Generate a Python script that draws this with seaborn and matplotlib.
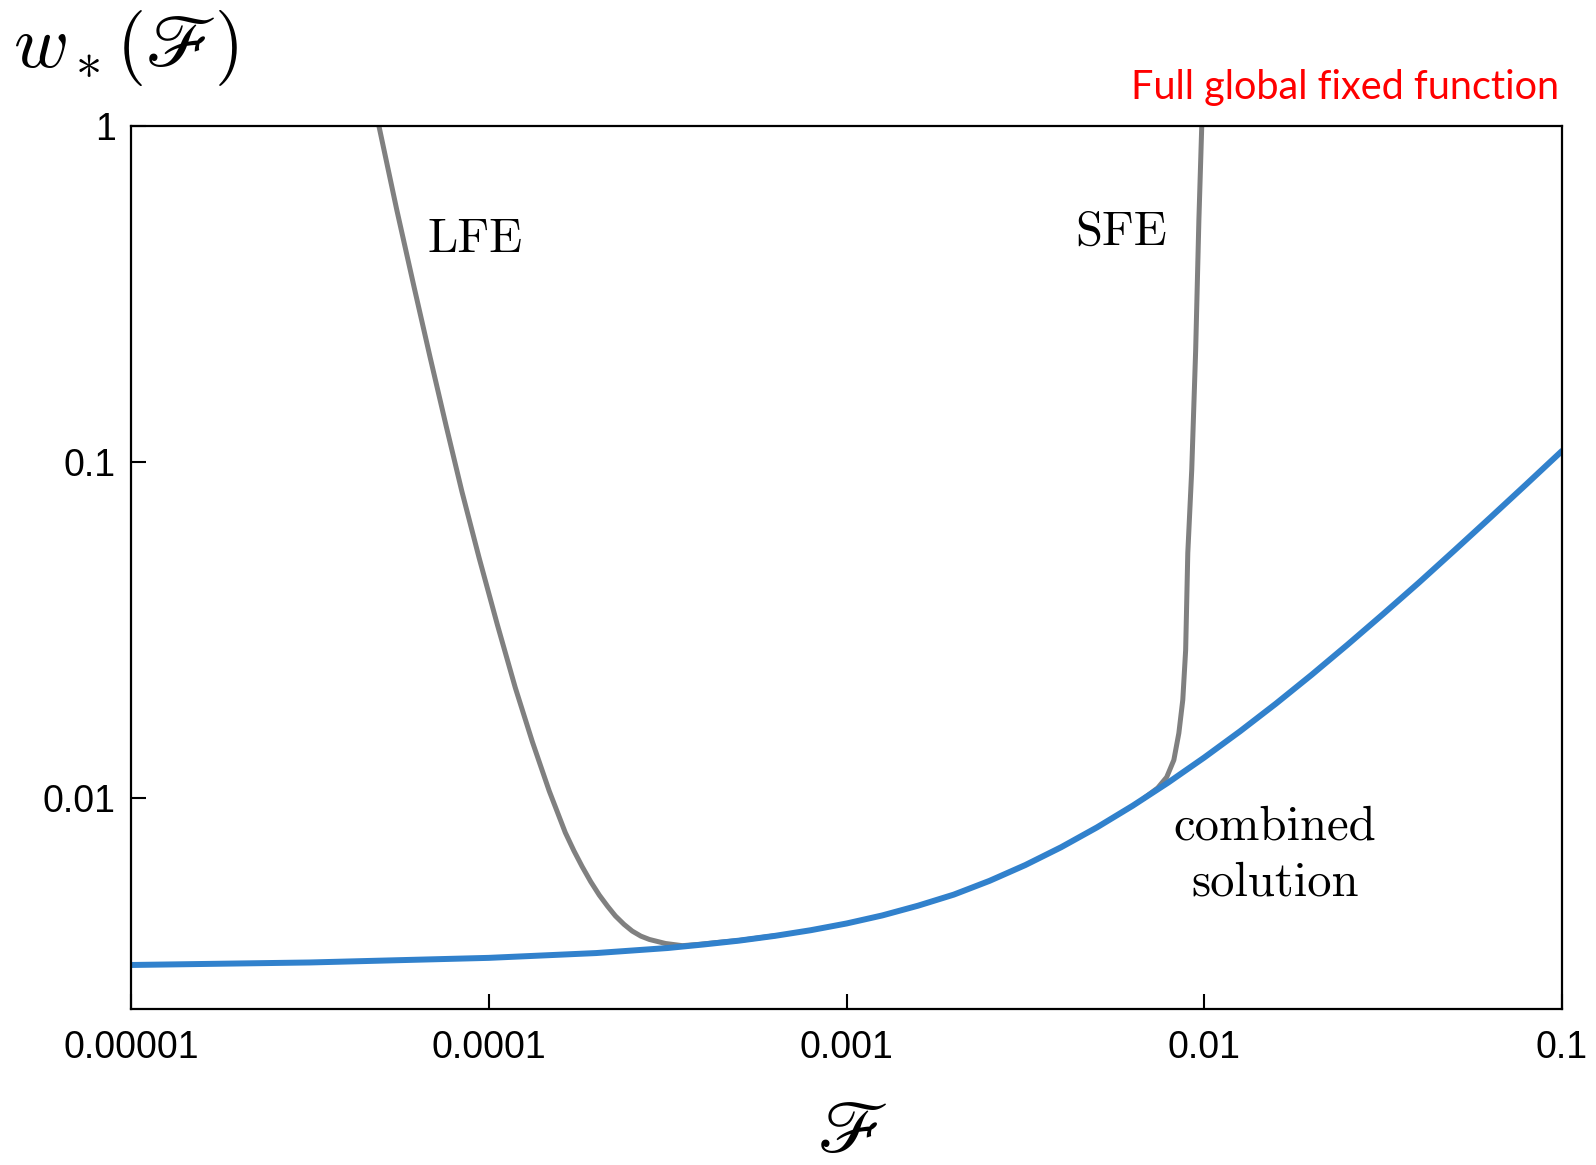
import numpy as np
import pandas as pd
import matplotlib
matplotlib.use("Agg")
import matplotlib.pyplot as plt
import seaborn as sns
from matplotlib.ticker import NullLocator

# ---- data (log10 of F and of w*) ----
combined_logF = [-5.0, -4.5, -4.0, -3.7, -3.5, -3.4, -3.3, -3.2, -3.1, -3.0, -2.9, -2.8,
                 -2.7, -2.6, -2.5, -2.4, -2.3, -2.2, -2.1, -2.0, -1.9, -1.8, -1.7, -1.6,
                 -1.5, -1.4, -1.3, -1.2, -1.1, -1.0]
combined_logw = [-2.497, -2.4895, -2.4758, -2.4615, -2.4465, -2.436, -2.4245, -2.4103,
                 -2.3935, -2.3735, -2.3495, -2.3205, -2.2875, -2.2465, -2.1995, -2.1465,
                 -2.0875, -2.023, -1.9535, -1.8795, -1.8015, -1.7195, -1.6335, -1.5442,
                 -1.4525, -1.359, -1.2625, -1.165, -1.0665, -0.967]

lfe_logF = [-4.307, -4.257, -4.209, -4.164, -4.119, -4.075, -4.027, -3.976, -3.926, -3.878,
            -3.831, -3.786, -3.762, -3.739, -3.715, -3.691, -3.668, -3.646, -3.622, -3.599,
            -3.575, -3.551, -3.506, -3.459, -3.411, -3.366, -3.30, -3.20]
lfe_logw = [0.0, -0.250, -0.478, -0.688, -0.893, -1.088, -1.285, -1.484, -1.671, -1.833,
            -1.979, -2.103, -2.157, -2.204, -2.249, -2.289, -2.322, -2.351, -2.376, -2.396,
            -2.411, -2.421, -2.433, -2.4395, -2.4355, -2.4305, -2.4240, -2.4098]

sfe_logF = [-2.007, -2.015, -2.024, -2.035, -2.046, -2.052, -2.060, -2.071, -2.085, -2.105,
            -2.130, -2.17]
sfe_logw = [0.0, -0.280, -0.667, -1.024, -1.271, -1.560, -1.708, -1.807, -1.887, -1.938,
            -1.970, -2.002]

x_ticks = [1e-5, 1e-4, 1e-3, 1e-2, 1e-1]
x_tick_labels = ["0.00001", "0.0001", "0.001", "0.01", "0.1"]
y_ticks = [0.01, 0.1, 1]
y_tick_labels = ["0.01", "0.1", "1"]

df_comb = pd.DataFrame({"F": np.power(10.0, combined_logF), "w": np.power(10.0, combined_logw)})
df_lfe = pd.DataFrame({"F": np.power(10.0, lfe_logF), "w": np.power(10.0, lfe_logw)})
df_sfe = pd.DataFrame({"F": np.power(10.0, sfe_logF), "w": np.power(10.0, sfe_logw)})

sns.set_theme(style="ticks")
plt.rcParams['font.family'] = ['Liberation Sans', 'DejaVu Sans']
plt.rcParams['mathtext.fontset'] = 'cm'

W, H = 1596, 1165
fig = plt.figure(figsize=(W / 100, H / 100), dpi=100)
L, R, T, B = 131, 1562, 126, 1009
ax = fig.add_axes([L / W, 1 - B / H, (R - L) / W, (B - T) / H])

gray = "#808080"
blue = "#3181CC"
sns.lineplot(data=df_lfe, x="F", y="w", sort=False, estimator=None, color=gray, lw=3.6, ax=ax)
sns.lineplot(data=df_sfe, x="F", y="w", sort=False, estimator=None, color=gray, lw=3.6, ax=ax)
sns.lineplot(data=df_comb, x="F", y="w", sort=False, estimator=None, color=blue, lw=4.3, ax=ax)

ax.set_xscale("log")
ax.set_yscale("log")
ax.set_xlim(1e-5, 1e-1)
ax.set_ylim(10 ** (-(B - T) / 336.0), 1)
ax.set_xticks(x_ticks, labels=x_tick_labels)
ax.set_yticks(y_ticks, labels=y_tick_labels)
ax.xaxis.set_minor_locator(NullLocator())
ax.yaxis.set_minor_locator(NullLocator())
ax.tick_params(direction="in", length=10.5, width=1.5, labelsize=27, colors="black")
ax.tick_params(axis="x", pad=15)
ax.tick_params(axis="y", pad=11)
for s in ax.spines.values():
    s.set_visible(True)
    s.set_linewidth(1.6)
    s.set_color("black")

ax.set_ylabel(r"$w_*(\mathscr{F})$", rotation=0, fontsize=54, ha="left", va="baseline",
              color="black")
ax.yaxis.set_label_coords(-0.0825, 1.0668)
ax.set_xlabel(r"$\mathscr{F}$", fontsize=54, ha="center", va="baseline", color="black")
ax.xaxis.set_label_coords(0.504, -0.163)

ax.text(0.2075, 0.857, "LFE", transform=ax.transAxes, fontfamily="cmr10", fontsize=35,
        ha="left", va="baseline", color="black")
ax.text(0.660, 0.866, "SFE", transform=ax.transAxes, fontfamily="cmr10", fontsize=35,
        ha="left", va="baseline", color="black")
ax.text(0.7994, 0.128, "combined\nsolution", transform=ax.transAxes, fontfamily="cmr10",
        fontsize=35, ha="center", va="baseline", multialignment="center", linespacing=1.37,
        color="black")

fig.text(1559 / W, 1 - 99 / H, "Full global fixed function", color="red", fontfamily="Lato",
         fontsize=28.5, ha="right", va="baseline")

fig.savefig("out.png", dpi=100)
